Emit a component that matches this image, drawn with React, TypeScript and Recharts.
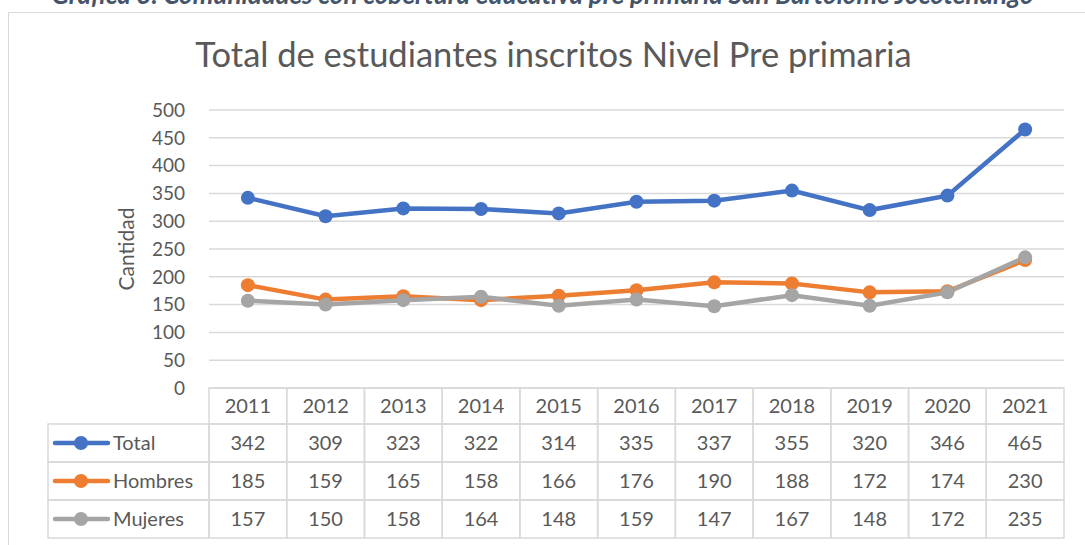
import { LineChart, Line, XAxis, YAxis, CartesianGrid } from "recharts";

const years = ["2011", "2012", "2013", "2014", "2015", "2016", "2017", "2018", "2019", "2020", "2021"];
const total = [342, 309, 323, 322, 314, 335, 337, 355, 320, 346, 465];
const hombres = [185, 159, 165, 158, 166, 176, 190, 188, 172, 174, 230];
const mujeres = [157, 150, 158, 164, 148, 159, 147, 167, 148, 172, 235];
const yTicks = [0, 50, 100, 150, 200, 250, 300, 350, 400, 450, 500];

const SERIES = [
  { key: "total", name: "Total", color: "#4472c4", values: total },
  { key: "hombres", name: "Hombres", color: "#ed7d31", values: hombres },
  { key: "mujeres", name: "Mujeres", color: "#a5a5a5", values: mujeres },
];

const data = years.map((year, i) => ({
  year,
  total: total[i],
  hombres: hombres[i],
  mujeres: mujeres[i],
}));

const W = 1085;
const H = 545;
const PLOT_LEFT = 209;
const PLOT_RIGHT = 1064;
const PLOT_TOP = 110;
const PLOT_BOTTOM = 388;
const CELL_W = (PLOT_RIGHT - PLOT_LEFT) / years.length;
const HEADER_H = 36;
const ROW_H = 38;
const LEGEND_LEFT = 48;
const FONT = "Lato, 'Open Sans', sans-serif";
const GRID = "#d9d9d9";
const TEXT = "#595959";

function TableTick(props: any) {
  const { x, index, payload } = props;
  const left = x - CELL_W / 2;
  const top = PLOT_BOTTOM;
  const rowTop = (r: number) => top + HEADER_H + r * ROW_H;
  return (
    <g>
      <rect x={left} y={top} width={CELL_W} height={HEADER_H} fill="none" stroke={GRID} strokeWidth={1.5} />
      <text x={x} y={top + HEADER_H / 2 + 7} textAnchor="middle" fontSize={20} fill={TEXT} fontFamily={FONT}>
        {payload.value}
      </text>
      {SERIES.map((s, r) => (
        <g key={s.key}>
          <rect x={left} y={rowTop(r)} width={CELL_W} height={ROW_H} fill="none" stroke={GRID} strokeWidth={1.5} />
          <text x={x} y={rowTop(r) + ROW_H / 2 + 7} textAnchor="middle" fontSize={20} fill={TEXT} fontFamily={FONT}>
            {s.values[index]}
          </text>
        </g>
      ))}
      {index === 0 &&
        SERIES.map((s, r) => (
          <g key={"lg" + s.key}>
            <rect
              x={LEGEND_LEFT}
              y={rowTop(r)}
              width={PLOT_LEFT - LEGEND_LEFT}
              height={ROW_H}
              fill="none"
              stroke={GRID}
              strokeWidth={1.5}
            />
            <line
              x1={55}
              x2={108}
              y1={rowTop(r) + ROW_H / 2}
              y2={rowTop(r) + ROW_H / 2}
              stroke={s.color}
              strokeWidth={4.5}
              strokeLinecap="round"
            />
            <circle cx={81} cy={rowTop(r) + ROW_H / 2} r={7} fill={s.color} />
            <text x={113} y={rowTop(r) + ROW_H / 2 + 7} fontSize={20} fill={TEXT} fontFamily={FONT}>
              {s.name}
            </text>
          </g>
        ))}
    </g>
  );
}

export default function App() {
  return (
    <div style={{ position: "absolute", left: 0, top: 0, width: W, height: H, overflow: "hidden", background: "#fff" }}>
      <div
        style={{
          position: "absolute",
          left: 0,
          width: W,
          top: -21,
          textAlign: "center",
          fontFamily: FONT,
          fontWeight: 700,
          fontStyle: "italic",
          fontSize: 26,
          color: "#44546a",
          lineHeight: "31px",
          whiteSpace: "nowrap",
        }}
      >
        Gráfica 3. Comunidades con cobertura educativa pre primaria San Bartolomé Jocotenango
      </div>
      <div
        style={{
          position: "absolute",
          left: 8,
          top: 12,
          width: W,
          height: H,
          border: `1.5px solid ${GRID}`,
          boxSizing: "border-box",
        }}
      />
      <div
        style={{
          position: "absolute",
          left: 0,
          width: W,
          top: 33,
          textAlign: "center",
          fontFamily: FONT,
          fontSize: 34.5,
          lineHeight: "41px",
          color: TEXT,
          paddingLeft: 22,
          boxSizing: "border-box",
          whiteSpace: "nowrap",
        }}
      >
        Total de estudiantes inscritos Nivel Pre primaria
      </div>
      <div style={{ position: "absolute", left: 0, top: 0 }}>
        <LineChart
          width={W}
          height={H}
          data={data}
          margin={{ top: PLOT_TOP, right: W - PLOT_RIGHT, bottom: 0, left: 0 }}
        >
          <CartesianGrid vertical={false} stroke={GRID} strokeWidth={1.5} />
          <XAxis
            dataKey="year"
            height={H - PLOT_BOTTOM}
            padding={{ left: CELL_W / 2, right: CELL_W / 2 }}
            axisLine={false}
            tickLine={false}
            interval={0}
            tick={<TableTick />}
          />
          <YAxis
            width={PLOT_LEFT}
            domain={[0, 500]}
            ticks={yTicks}
            axisLine={false}
            tickLine={false}
            tickMargin={18}
            tick={{ fontSize: 19, fill: TEXT, fontFamily: FONT }}
            label={{
              content: () => (
                <text
                  x={134}
                  y={(PLOT_TOP + PLOT_BOTTOM) / 2}
                  transform={`rotate(-90 134 ${(PLOT_TOP + PLOT_BOTTOM) / 2})`}
                  textAnchor="middle"
                  fontSize={21}
                  fill={TEXT}
                  fontFamily={FONT}
                >
                  Cantidad
                </text>
              ),
            }}
          />
          {SERIES.map((s) => (
            <Line
              key={s.key}
              dataKey={s.key}
              name={s.name}
              stroke={s.color}
              strokeWidth={4.5}
              dot={{ r: 7, fill: s.color, stroke: s.color, strokeWidth: 0 }}
              isAnimationActive={false}
            />
          ))}
        </LineChart>
      </div>
    </div>
  );
}
